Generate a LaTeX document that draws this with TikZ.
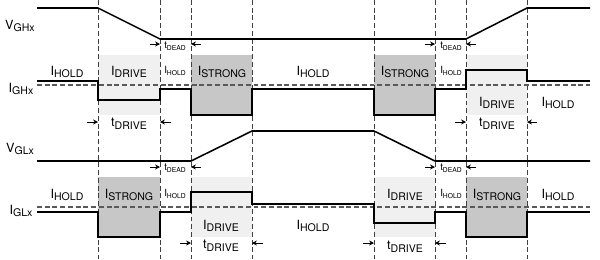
\documentclass[tikz,border=0pt]{standalone}
\usepackage{fontspec}
\setmainfont{TeX Gyre Heros}
\usetikzlibrary{arrows.meta}
\newcommand{\lvl}[2]{#1\raisebox{-0.4ex}{\fontsize{7.5}{7.5}\selectfont #2}}
\newcommand{\lvlsmall}[2]{{\fontsize{7}{7}\selectfont #1}\raisebox{-0.35ex}{\fontsize{4.8}{4.8}\selectfont #2}}

\begin{document}
\begin{tikzpicture}[x=0.025cm, y=-0.025cm, >=Stealth,
    wave/.style={line width=1.1pt, line join=miter},
    edge/.style={dash pattern=on 3.5pt off 2pt, line width=0.5pt, black!75},
    ref/.style={dash pattern=on 3.5pt off 2pt, line width=0.8pt, black!65},
    weak/.style={fill=black!6},
    strong/.style={fill=black!22},
    lbl/.style={font=\fontsize{9}{9}\selectfont, inner sep=0pt},
    tick/.style={-{Stealth[length=3.5pt,width=3.5pt]}, line width=0.5pt}]
    \useasboundingbox (0,0) rectangle (600,259);

    % --- Shaded drive phases, high side ---
    \fill[weak]   (98,55)  rectangle (160,115);
    \fill[strong] (191,55) rectangle (252,115);
    \fill[strong] (374,55) rectangle (435,115);
    \fill[weak]   (466,55) rectangle (527,115);
    % --- Shaded drive phases, low side ---
    \fill[strong] (98,177)  rectangle (160,237);
    \fill[weak]   (191,177) rectangle (252,237);
    \fill[weak]   (374,177) rectangle (435,237);
    \fill[strong] (466,177) rectangle (527,237);

    % Phase boundaries
    \foreach \x in {98,160,191,252,374,435,466,527}
        \draw[edge] (\x,0) -- (\x,259);

    % Zero reference of the gate currents
    \draw[ref] (37,85) -- (590,85);
    \draw[ref] (37,207) -- (590,207);

    % --- High side waveforms ---
    \draw[wave] (37,8) -- (98,8) -- (160,39) -- (466,39) -- (527,8) -- (590,8);
    \draw[wave] (37,81) -- (98,81) -- (98,100) -- (160,100) -- (160,89) -- (191,89)
        -- (191,115) -- (252,115) -- (252,89) -- (374,89) -- (374,115) -- (435,115)
        -- (435,89) -- (466,89) -- (466,70) -- (527,70) -- (527,81) -- (590,81);
    % --- Low side waveforms ---
    \draw[wave] (37,161) -- (191,161) -- (252,131) -- (374,131) -- (435,161) -- (590,161);
    \draw[wave] (37,212) -- (98,212) -- (98,237) -- (160,237) -- (160,212) -- (191,212)
        -- (191,192) -- (252,192) -- (252,204) -- (374,204) -- (374,223) -- (435,223)
        -- (435,212) -- (466,212) -- (466,237) -- (527,237) -- (527,212) -- (590,212);

    % Signal names
    \node[lbl] (vgh) at (20,26)  {\lvl{V}{GHx}};
    \node[lbl] (igh) at (21,89)  {\lvl{I}{GHx}};
    \node[lbl] (vgl) at (20,149) {\lvl{V}{GLx}};
    \node[lbl] (igl) at (21,211) {\lvl{I}{GLx}};

    % --- High side current levels ---
    \node[lbl] (ghHold1)   at (67,72)  {\lvl{I}{HOLD}};
    \node[lbl] (ghDrive1)  at (129,72) {\lvl{I}{DRIVE}};
    \node[lbl] (ghHold2)   at (175,71) {\lvlsmall{I}{HOLD}};
    \node[lbl] (ghStrong1) at (222,72) {\lvl{I}{STRONG}};
    \node[lbl] (ghHold3)   at (313,72) {\lvl{I}{HOLD}};
    \node[lbl] (ghStrong2) at (405,72) {\lvl{I}{STRONG}};
    \node[lbl] (ghHold4)   at (451,71) {\lvlsmall{I}{HOLD}};
    \node[lbl] (ghDrive2)  at (497,103) {\lvl{I}{DRIVE}};
    \node[lbl] (ghHold5)   at (558,103) {\lvl{I}{HOLD}};
    % --- Low side current levels ---
    \node[lbl] (glHold1)   at (67,195)  {\lvl{I}{HOLD}};
    \node[lbl] (glStrong1) at (129,195) {\lvl{I}{STRONG}};
    \node[lbl] (glHold2)   at (175,194) {\lvlsmall{I}{HOLD}};
    \node[lbl] (glDrive1)  at (221,226) {\lvl{I}{DRIVE}};
    \node[lbl] (glHold3)   at (313,226) {\lvl{I}{HOLD}};
    \node[lbl] (glDrive2)  at (405,195) {\lvl{I}{DRIVE}};
    \node[lbl] (glHold4)   at (451,194) {\lvlsmall{I}{HOLD}};
    \node[lbl] (glStrong2) at (497,195) {\lvl{I}{STRONG}};
    \node[lbl] (glHold5)   at (558,195) {\lvl{I}{HOLD}};

    % --- Timing intervals ---
    \node[lbl] (deadA)  at (175,46)  {\lvlsmall{t}{DEAD}};
    \node[lbl] (deadB)  at (451,46)  {\lvlsmall{t}{DEAD}};
    \node[lbl] (deadC)  at (175,168) {\lvlsmall{t}{DEAD}};
    \node[lbl] (deadD)  at (451,168) {\lvlsmall{t}{DEAD}};
    \node[lbl] (driveA) at (129,124) {\lvl{t}{DRIVE}};
    \node[lbl] (driveB) at (497,124) {\lvl{t}{DRIVE}};
    \node[lbl] (driveC) at (221,246) {\lvl{t}{DRIVE}};
    \node[lbl] (driveD) at (405,247) {\lvl{t}{DRIVE}};

    \draw[tick] (150,44) -- (160,44);  \draw[tick] (201,44) -- (191,44);
    \draw[tick] (425,44) -- (435,44);  \draw[tick] (476,44) -- (466,44);
    \draw[tick] (150,167) -- (160,167); \draw[tick] (201,167) -- (191,167);
    \draw[tick] (425,167) -- (435,167); \draw[tick] (476,167) -- (466,167);
    \draw[tick] (87,122) -- (98,122);   \draw[tick] (171,122) -- (160,122);
    \draw[tick] (455,122) -- (466,122); \draw[tick] (537,122) -- (527,122);
    \draw[tick] (180,243) -- (191,243); \draw[tick] (263,243) -- (252,243);
    \draw[tick] (363,243) -- (374,243); \draw[tick] (446,243) -- (435,243);
\end{tikzpicture}
\end{document}
